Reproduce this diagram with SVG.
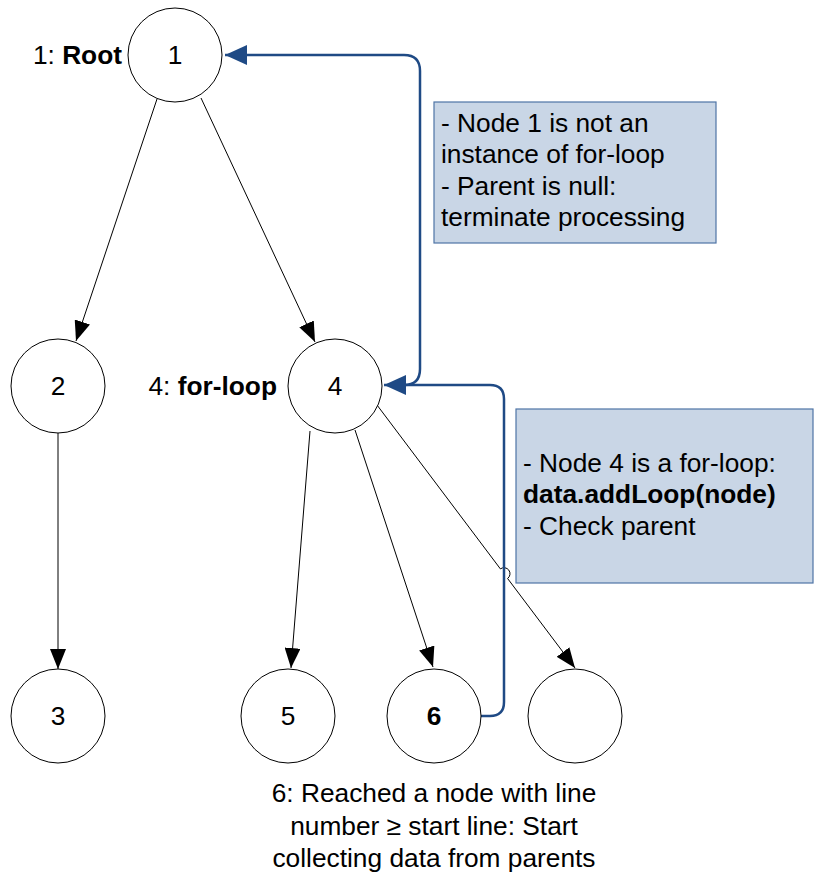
<svg xmlns="http://www.w3.org/2000/svg" width="814" height="872" viewBox="0 0 814 872">
  <style>
    text { font-family: "Liberation Sans", Arial, sans-serif; font-size: 26.3px; fill: #000; }
    .b { font-weight: bold; }
    .node { fill: #fff; stroke: #000; stroke-width: 1; }
    .edge { fill: none; stroke: #000; stroke-width: 1; marker-end: url(#arrow); }
    .flow { fill: none; stroke: #1f4a85; stroke-width: 2.5; marker-end: url(#arrowBlue); }
    .note { fill: #c9d6e6; stroke: #4f74a6; stroke-width: 1.2; }
  </style>
  <defs>
    <marker id="arrow" viewBox="0 0 20 16" refX="20" refY="8" markerWidth="20" markerHeight="16" markerUnits="userSpaceOnUse" orient="auto">
      <path d="M0,0 L20,8 L0,16 Z" fill="#000"/>
    </marker>
    <marker id="arrowBlue" viewBox="0 0 22 20" refX="22" refY="10" markerWidth="22" markerHeight="20" markerUnits="userSpaceOnUse" orient="auto">
      <path d="M0,0 L22,10 L0,20 Z" fill="#1f4a85"/>
    </marker>
  </defs>

  <rect width="814" height="872" fill="#fff"/>

  <!-- explanatory notes -->
  <g id="note-root">
    <rect class="note" x="434" y="102" width="282" height="141"/>
    <text x="441" y="132">- Node 1 is not an</text>
    <text x="441" y="163">instance of for-loop</text>
    <text x="441" y="195">- Parent is null:</text>
    <text x="441" y="226">terminate processing</text>
  </g>
  <g id="note-loop">
    <rect class="note" x="516" y="409" width="297" height="174"/>
    <text x="523" y="472">- Node 4 is a for-loop:</text>
    <text x="523" y="503" class="b">data.addLoop(node)</text>
    <text x="523" y="535">- Check parent</text>
  </g>

  <!-- tree edges and traversal path -->
  <g id="connectors">
    <line class="edge" x1="157" y1="99" x2="76" y2="341"/>
    <line class="edge" x1="201" y1="98" x2="315" y2="342"/>
    <line class="edge" x1="58" y1="433" x2="58" y2="669"/>
    <line class="edge" x1="310" y1="431" x2="291" y2="668"/>
    <line class="edge" x1="355" y1="430" x2="433" y2="667"/>
    <path class="edge" d="M377,405 L500.4,568.9 A6,6 0 0 1 507.6,578.5 L575,668"/>
    <path class="flow" d="M481,716 H490 Q504,716 504,702 V399 Q504,385 490,385 H384"/>
    <path class="flow" d="M404,385 Q420,385 420,369 V71 Q420,55 404,55 H225"/>
  </g>

  <!-- tree nodes -->
  <g id="node-1">
    <circle class="node" cx="175" cy="55" r="47"/>
    <text x="175" y="64" text-anchor="middle">1</text>
    <text x="122" y="64" text-anchor="end">1: <tspan class="b">Root</tspan></text>
  </g>
  <g id="node-2">
    <circle class="node" cx="58" cy="386" r="47"/>
    <text x="58" y="395" text-anchor="middle">2</text>
  </g>
  <g id="node-3">
    <circle class="node" cx="58" cy="716" r="47"/>
    <text x="58" y="725" text-anchor="middle">3</text>
  </g>
  <g id="node-4">
    <circle class="node" cx="335" cy="386" r="47"/>
    <text x="335" y="395" text-anchor="middle">4</text>
    <text x="277" y="395" text-anchor="end">4: <tspan class="b">for-loop</tspan></text>
  </g>
  <g id="node-5">
    <circle class="node" cx="288" cy="716" r="47"/>
    <text x="288" y="725" text-anchor="middle">5</text>
  </g>
  <g id="node-6">
    <circle class="node" cx="434" cy="716" r="47"/>
    <text x="434" y="725" text-anchor="middle" class="b">6</text>
    <text x="434" y="802" text-anchor="middle">6: Reached a node with line</text>
    <text x="434" y="835" text-anchor="middle">number ≥ start line: Start</text>
    <text x="434" y="867" text-anchor="middle">collecting data from parents</text>
  </g>
  <g id="node-7">
    <circle class="node" cx="575" cy="716" r="47"/>
  </g>
</svg>
